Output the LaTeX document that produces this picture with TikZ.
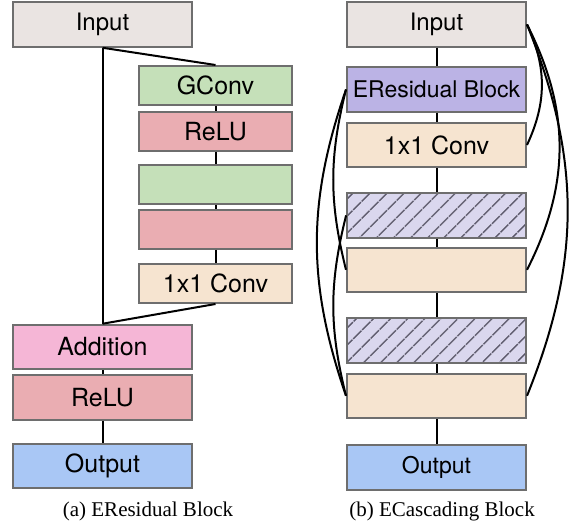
\documentclass[tikz,border=0pt]{standalone}
\usepackage{fontspec}
\setmainfont{Liberation Serif}
\newfontfamily\blockfont{TeX Gyre Heros}
\usetikzlibrary{positioning,patterns.meta}
\definecolor{inputgray}{RGB}{234,228,226}
\definecolor{gconvgreen}{RGB}{197,224,185}
\definecolor{relupink}{RGB}{234,173,178}
\definecolor{convbeige}{RGB}{246,228,208}
\definecolor{addpink}{RGB}{245,182,214}
\definecolor{outblue}{RGB}{169,199,245}
\definecolor{erespurple}{RGB}{187,179,229}
\definecolor{hatchbg}{RGB}{218,215,238}
\definecolor{hatchgray}{RGB}{85,82,100}
\definecolor{bordergray}{RGB}{110,110,110}
\tikzset{
  block/.style={ % full width layer box
    draw=bordergray, line width=2pt, rectangle,
    minimum width=179pt, minimum height=44.5pt,
    inner sep=2pt, text=black,
    font=\blockfont\fontsize{25}{29}\selectfont
  },
  small/.style={ % layer box of the residual branch
    block, minimum width=153pt, minimum height=39pt
  },
  hatched/.style={ % placeholder for a repeated residual block
    block, preaction={fill=hatchbg},
    pattern={Lines[angle=45,distance=13pt,line width=1.8pt]},
    pattern color=hatchgray
  },
  fs/.style={font=\blockfont\fontsize{#1}{#1}\selectfont},
  link/.style={line width=2pt, black},
  caption/.style={font=\fontsize{21}{25}\selectfont}
}
\begin{document}
\begin{tikzpicture}[x=1pt, y=1pt]
    \useasboundingbox (0,0) rectangle (569,527);

    % (a) ERes block
    \node[block, fill=inputgray, fs=24] (in_a) at (102.5,502.5) {Input};
    \node[small, fill=gconvgreen, anchor=north] (gconv) at (215.5,462) {GConv};
    \node[small, fill=relupink, below=5pt of gconv] (relu_a1) {ReLU};
    \node[small, fill=gconvgreen, below=12pt of relu_a1] (gconv_2) {};
    \node[small, fill=relupink, below=4pt of gconv_2] (relu_a2) {};
    \node[small, fill=convbeige, below=13pt of relu_a2] (conv_a) {1x1 Conv};
    \node[block, fill=addpink] (add) at (102.5,180) {Addition};
    \node[block, fill=relupink, below=4pt of add] (relu_a3) {ReLU};
    \node[block, fill=outblue, below=22pt of relu_a3] (out_a) {Output};
    \node[caption] (cap_a) at (148,16) {(a) EResidual Block};

    \draw[link] (in_a) -- (add);
    \draw[link] (in_a.south) -- (gconv.north);
    \draw[link] (conv_a.south) -- (add.north);
    \draw[link] (gconv) -- (relu_a1) -- (gconv_2) -- (relu_a2) -- (conv_a);
    \draw[link] (add) -- (relu_a3) -- (out_a);

    % (b) ECascading block
    \node[block, fill=inputgray, fs=24] (in_b) at (436.5,502.5) {Input};
    \node[block, fill=erespurple, fs=23, below=18.5pt of in_b] (eres) {EResidual Block};
    \node[block, fill=convbeige, below=9pt of eres] (conv_b) {1x1 Conv};
    \node[hatched, below=24pt of conv_b] (eres_2) {};
    \node[block, fill=convbeige, below=8pt of eres_2] (conv_b2) {};
    \node[hatched, below=24pt of conv_b2] (eres_3) {};
    \node[block, fill=convbeige, below=9pt of eres_3] (conv_b3) {};
    \node[block, fill=outblue, fs=23, below=25pt of conv_b3] (out_b) {Output};
    \node[caption] (cap_b) at (442,16) {(b) ECascading Block};

    \foreach \a/\b in {in_b/eres, eres/conv_b, conv_b/eres_2, eres_2/conv_b2,
                       conv_b2/eres_3, eres_3/conv_b3, conv_b3/out_b}
      \draw[link] (\a) -- (\b);

    \draw[link] (in_b.east) to[out=-65, in=65] (conv_b.east);
    \draw[link] (in_b.east) to[out=-63, in=63] (conv_b2.east);
    \draw[link] (in_b.east) to[out=-68, in=68] (conv_b3.east);
    \draw[link] (eres.west) to[out=-104, in=104] (conv_b2.west);
    \draw[link] (eres.west) to[out=-109, in=109] (conv_b3.west);
    \draw[link] (eres_2.west) to[out=-104, in=104] (conv_b3.west);
\end{tikzpicture}
\end{document}
